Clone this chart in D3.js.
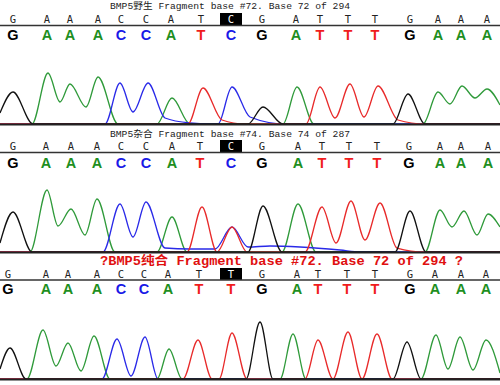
<!DOCTYPE html>
<html>
<head>
<meta charset="utf-8">
<script src="https://cdn.jsdelivr.net/npm/d3@7"></script>
<style>
  body { margin: 0; background: #fff; }
  svg { display: block; }
</style>
</head>
<body>
<div id="chart"></div>
<script>
// titles of the three traces
var titles = [
  "BMP5野生 Fragment base #72. Base 72 of 294",
  "BMP5杂合 Fragment base #74. Base 74 of 287",
  "?BMP5纯合 Fragment base #72. Base 72 of 294 ?"
];

// base calls
var wildCalls = "GAAACCATCGATTTGAAA";
var hetCalls  = "GAAACCATCGATTTGAAA";
var homoCalls = "GAAACCATTGATTTGAAA";
var highlightIndex = 8;

// base positions (scan)
var wildPos = [13, 47, 70, 98, 121, 146, 171, 201, 231, 262, 296, 320, 348, 375, 410, 438, 461, 487];
var hetPos  = [13, 46, 71, 97, 121, 146, 172, 200, 231, 262, 298, 322, 349, 377, 409, 440, 461, 488];
var homoPos = [8, 46, 68, 97, 121, 144, 168, 199, 231, 262, 297, 318, 347, 375, 410, 435, 461, 486];

// trace signals [scan, intensity]
var wildG = [[0,11],[13,32],[33,0],[248,0],[263,17],[283,0],[393,0],[408,30],[425,0],[500,0]];
var wildA = [[0,0],[32,0],[48,51],[60,22],[70,40],[86,17],[98,47],[118,0],[157,0],[172,26],[190,0],[283,0],[297,37],[314,0],[423,0],[438,32],[450,20],[462,38],[475,26],[487,35],[500,19]];
var wildC = [[0,0],[105,0],[120,41],[133,12],[148,41],[165,6],[190,1],[210,0],[218,0],[232,37],[250,7],[285,0],[500,0]];
var wildT = [[0,0],[188,0],[203,36],[222,4],[245,0],[306,0],[320,37],[335,6],[350,40],[364,7],[378,38],[398,4],[425,0],[500,0]];

var hetG = [[0,9],[13,40],[32,0],[248,0],[263,46],[282,0],[395,0],[410,41],[426,0],[500,0]];
var hetA = [[0,0],[30,0],[47,62],[58,26],[71,43],[85,17],[97,53],[115,0],[157,0],[172,35],[187,0],[282,0],[298,48],[316,0],[425,0],[440,42],[452,25],[464,41],[477,17],[488,38],[500,25]];
var hetC = [[0,0],[103,0],[120,48],[133,15],[146,50],[165,4],[190,3],[215,3],[232,25],[248,5],[270,6],[300,5],[340,2],[360,0],[500,0]];
var hetT = [[0,0],[187,0],[202,45],[217,0],[232,25],[247,0],[305,0],[322,45],[336,9],[351,51],[365,12],[380,49],[397,4],[425,0],[500,0]];

var homoG = [[0,10],[10,31],[26,0],[246,0],[260,57],[273,0],[393,0],[407,37],[421,0],[500,0]];
var homoA = [[0,0],[27,0],[43,49],[56,13],[68,36],[81,8],[94,43],[110,0],[157,0],[169,30],[182,0],[280,0],[293,45],[306,0],[421,0],[436,44],[448,10],[460,42],[473,9],[486,39],[500,6]];
var homoC = [[0,0],[102,0],[117,40],[131,3],[145,42],[158,0],[500,0]];
var homoT = [[0,0],[183,0],[198,39],[212,0],[219,0],[232,46],[247,0],[305,0],[318,39],[333,0],[348,47],[362,0],[377,45],[392,0],[500,0]];

var baseColor = { A: "#1f8f1f", C: "#1a1ae6", G: "#000000", T: "#f01c1c" };
var traceColor = { A: "#2f9a3a", C: "#2a2ae8", G: "#111111", T: "#e82a2a" };

var width = 500, height = 385;

var panels = [
  { title: titles[0], calls: wildCalls, pos: wildPos, traces: { A: wildA, C: wildC, T: wildT, G: wildG },
    titleX: 110, titleW: 240, titleY: 9, small: 22.5, lineY: 25.5, big: 39.5, boxY: 13, baseY: 124, red: false },
  { title: titles[1], calls: hetCalls, pos: hetPos, traces: { A: hetA, C: hetC, T: hetT, G: hetG },
    titleX: 110, titleW: 240, titleY: 137, small: 150, lineY: 152.5, big: 167.5, boxY: 140, baseY: 252, red: false },
  { title: titles[2], calls: homoCalls, pos: homoPos, traces: { A: homoA, C: homoC, T: homoT, G: homoG },
    titleX: 100, titleW: 363, titleY: 265, small: 277.5, lineY: 280, big: 294, boxY: 268, baseY: 379, red: true }
];

var svg = d3.select("#chart").append("svg")
  .attr("width", width)
  .attr("height", height);

var x = d3.scaleLinear().domain([0, 500]).range([0, width]);

panels.forEach(function (p) {
  var g = svg.append("g");
  var y = d3.scaleLinear().domain([0, 60]).range([p.baseY, p.baseY - 60]);

  // title
  g.append("text")
    .attr("x", p.titleX)
    .attr("y", p.titleY)
    .attr("textLength", p.titleW)
    .attr("lengthAdjust", "spacingAndGlyphs")
    .style("font-family", "'Liberation Mono', 'Noto Sans CJK SC', monospace")
    .style("font-size", p.red ? "12px" : "9px")
    .style("font-weight", p.red ? "bold" : "normal")
    .style("fill", p.red ? "#e01010" : "#222")
    .text(p.title);

  // highlight box
  g.append("rect")
    .attr("x", x(p.pos[highlightIndex]) - 11)
    .attr("y", p.boxY)
    .attr("width", 22)
    .attr("height", p.lineY - p.boxY)
    .style("fill", "#000");

  // small calls
  g.selectAll(".small")
    .data(p.calls.split(""))
    .enter()
    .append("text")
    .attr("x", function (d, i) { return x(p.pos[i]); })
    .attr("y", p.small)
    .attr("text-anchor", "middle")
    .style("font-family", "'DejaVu Sans Mono', monospace")
    .style("font-size", "10.5px")
    .style("fill", function (d, i) { return i === highlightIndex ? "#fff" : "#222"; })
    .text(function (d) { return d; });

  // separator line
  g.append("line")
    .attr("x1", 0).attr("x2", width)
    .attr("y1", p.lineY).attr("y2", p.lineY)
    .style("stroke", "#333")
    .style("stroke-width", 1.5);

  // coloured calls
  g.selectAll(".big")
    .data(p.calls.split(""))
    .enter()
    .append("text")
    .attr("x", function (d, i) { return x(p.pos[i]); })
    .attr("y", p.big)
    .attr("text-anchor", "middle")
    .style("font-family", "'Liberation Sans', Arial, sans-serif")
    .style("font-size", "14.5px")
    .style("font-weight", "bold")
    .style("fill", function (d) { return baseColor[d]; })
    .text(function (d) { return d; });

  var line = d3.line()
    .x(function (d) { return x(d[0]); })
    .y(function (d) { return y(d[1]); })
    .curve(d3.curveMonotoneX);

  ["A", "C", "T", "G"].forEach(function (b) {
    g.append("path")
      .attr("d", line(p.traces[b]))
      .style("fill", "none")
      .style("stroke", traceColor[b])
      .style("stroke-width", 1.3);
  });

  // baseline
  g.append("line")
    .attr("x1", 0).attr("x2", width)
    .attr("y1", y(0) + 0.5).attr("y2", y(0) + 0.5)
    .style("stroke", "#222")
    .style("stroke-width", 2);
});
</script>
</body>
</html>
